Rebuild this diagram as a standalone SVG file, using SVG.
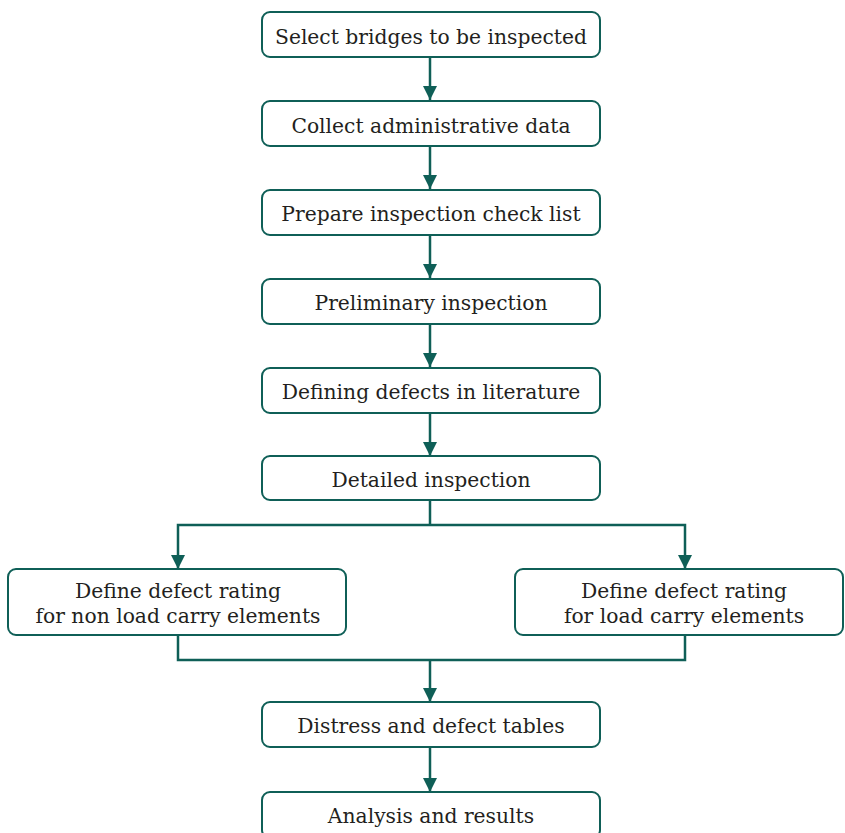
<svg xmlns="http://www.w3.org/2000/svg" width="845" height="833" viewBox="0 0 845 833">
<style>
.box{fill:#fff;stroke:#0f5f57;stroke-width:2}
.t{font-family:"DejaVu Serif","Liberation Serif",serif;font-size:20.3px;fill:#231f20;text-anchor:middle}
.c{fill:none;stroke:#0f5f57;stroke-width:2.5}
</style>
<defs>
<marker id="ah" viewBox="0 0 14 18" refX="14" refY="7" markerWidth="14" markerHeight="18" markerUnits="userSpaceOnUse" orient="auto">
<path d="M0,0 L14,7 L0,14 Z" fill="#0f5f57"/>
</marker>
</defs>
<rect width="845" height="833" fill="#fff"/>
<g id="connectors">
<line class="c" x1="430" y1="57" x2="430" y2="100" marker-end="url(#ah)"/>
<line class="c" x1="430" y1="146" x2="430" y2="189" marker-end="url(#ah)"/>
<line class="c" x1="430" y1="234" x2="430" y2="278" marker-end="url(#ah)"/>
<line class="c" x1="430" y1="323" x2="430" y2="367" marker-end="url(#ah)"/>
<line class="c" x1="430" y1="412" x2="430" y2="456" marker-end="url(#ah)"/>
<polyline class="c" points="430,500 430,525"/>
<polyline class="c" points="430,525 178,525 178,569" marker-end="url(#ah)"/>
<polyline class="c" points="430,525 685,525 685,569" marker-end="url(#ah)"/>
<polyline class="c" points="178,635 178,660 685,660 685,635"/>
<line class="c" x1="430" y1="660" x2="430" y2="702" marker-end="url(#ah)"/>
<line class="c" x1="430" y1="747" x2="430" y2="792" marker-end="url(#ah)"/>
</g>
<g id="n1"><rect class="box" x="262" y="12" width="338" height="45" rx="8"/><text class="t" x="431" y="44">Select bridges to be inspected</text></g>
<g id="n2"><rect class="box" x="262" y="101" width="338" height="45" rx="8"/><text class="t" x="431" y="133">Collect administrative data</text></g>
<g id="n3"><rect class="box" x="262" y="190" width="338" height="45" rx="8"/><text class="t" x="431" y="221">Prepare inspection check list</text></g>
<g id="n4"><rect class="box" x="262" y="279" width="338" height="45" rx="8"/><text class="t" x="431" y="310">Preliminary inspection</text></g>
<g id="n5"><rect class="box" x="262" y="368" width="338" height="45" rx="8"/><text class="t" x="431" y="399">Defining defects in literature</text></g>
<g id="n6"><rect class="box" x="262" y="456" width="338" height="44" rx="8"/><text class="t" x="431" y="487">Detailed inspection</text></g>
<g id="n7"><rect class="box" x="8" y="569" width="338" height="66" rx="8"/><text class="t" x="178" y="598">Define defect rating</text><text class="t" x="178" y="623">for non load carry elements</text></g>
<g id="n8"><rect class="box" x="515" y="569" width="328" height="66" rx="8"/><text class="t" x="684" y="598">Define defect rating</text><text class="t" x="684" y="623">for load carry elements</text></g>
<g id="n9"><rect class="box" x="262" y="702" width="338" height="45" rx="8"/><text class="t" x="431" y="733">Distress and defect tables</text></g>
<g id="n10"><rect class="box" x="262" y="792" width="338" height="46" rx="8"/><text class="t" x="431" y="823">Analysis and results</text></g>
</svg>
